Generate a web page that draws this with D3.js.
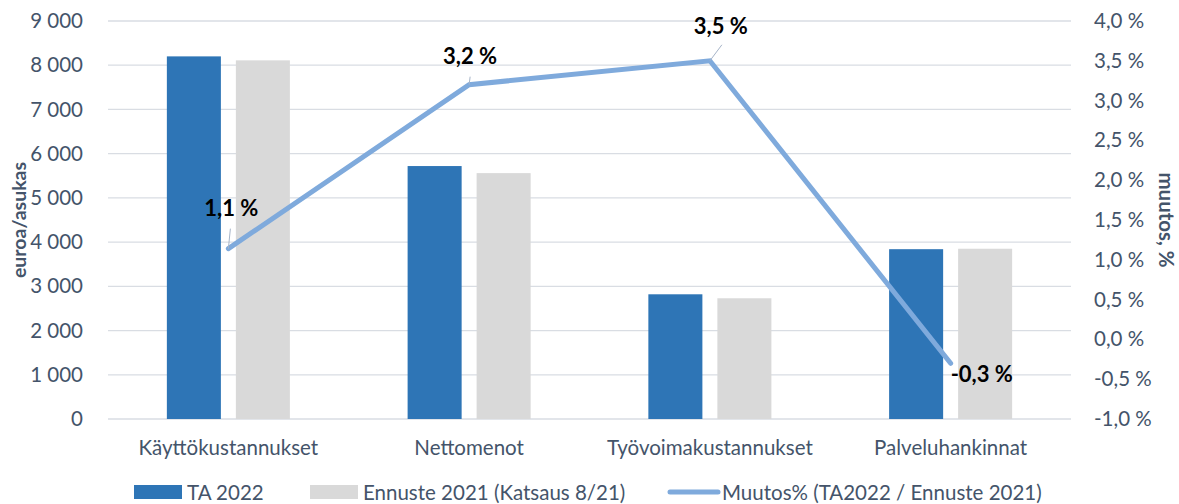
<!DOCTYPE html>
<html>
<head>
<meta charset="utf-8">
<script src="https://cdn.jsdelivr.net/npm/d3@7"></script>
<style>
  body { margin: 0; background: #fff; }
  text { font-family: Lato, "Open Sans", sans-serif; }
</style>
</head>
<body>
<svg id="chart" width="1179" height="504"></svg>
<script>
// data
const categories = ['Käyttökustannukset', 'Nettomenot', 'Työvoimakustannukset', 'Palveluhankinnat'];
const ta2022 = [8200, 5720, 2820, 3840];
const ennuste2021 = [8110, 5560, 2730, 3850];
const muutos = [1.14, 3.2, 3.5, -0.3];
const leftTicks = [0, 1000, 2000, 3000, 4000, 5000, 6000, 7000, 8000, 9000];
const rightTicks = [-1, -0.5, 0, 0.5, 1, 1.5, 2, 2.5, 3, 3.5, 4];
const seriesNames = ['TA 2022', 'Ennuste 2021 (Katsaus 8/21)', 'Muutos% (TA2022 / Ennuste 2021)'];

const svg = d3.select('#chart');
const plotL = 108, plotR = 1071, plotT = 21, plotB = 419;
const axisColor = '#44546A';
const fs = '20.5px';

const x = d3.scaleBand().domain(categories).range([plotL, plotR]);
const inner = d3.scaleBand().domain(['ta', 'en']).range([0, x.bandwidth()]).paddingOuter(0.853).paddingInner(0.217);
const yL = d3.scaleLinear().domain([0, 9000]).range([plotB, plotT]);
const yR = d3.scaleLinear().domain([-1, 4]).range([plotB, plotT]);

const fmtN = d => d3.format(',')(d).replace(/,/g, ' ');
const fmtP = d => d.toFixed(1).replace('.', ',') + ' %';

// gridlines
svg.append('g').selectAll('line').data(leftTicks).enter()
  .append('line')
    .attr('x1', plotL).attr('x2', plotR)
    .attr('y1', d => yL(d)).attr('y2', d => yL(d))
    .attr('stroke', '#D9DDE3').attr('stroke-width', 1.3);

// left axis
const gl = svg.append('g').attr('transform', `translate(${plotL - 22},0)`)
  .call(d3.axisLeft(yL).tickValues(leftTicks).tickFormat(fmtN).tickSize(0));
gl.select('.domain').remove();
gl.selectAll('text').attr('fill', axisColor).style('font-size', fs);

// right axis
const gr = svg.append('g').attr('transform', `translate(${plotR + 20},0)`)
  .call(d3.axisRight(yR).tickValues(rightTicks).tickFormat(fmtP).tickSize(0));
gr.select('.domain').remove();
gr.selectAll('text').attr('fill', axisColor).style('font-size', fs);

// bars
const groups = svg.append('g').selectAll('g').data(categories).enter()
  .append('g').attr('transform', d => `translate(${x(d)},0)`);
groups.append('rect')
  .attr('x', inner('ta')).attr('width', inner.bandwidth())
  .attr('y', (d, i) => yL(ta2022[i])).attr('height', (d, i) => plotB - yL(ta2022[i]))
  .attr('fill', '#2E75B6');
groups.append('rect')
  .attr('x', inner('en')).attr('width', inner.bandwidth())
  .attr('y', (d, i) => yL(ennuste2021[i])).attr('height', (d, i) => plotB - yL(ennuste2021[i]))
  .attr('fill', '#D9D9D9');

// category labels
svg.append('g').selectAll('text').data(categories).enter()
  .append('text')
    .attr('x', d => x(d) + x.bandwidth() / 2).attr('y', 455)
    .attr('text-anchor', 'middle').attr('fill', axisColor)
    .style('font-size', fs).text(d => d);

// line
const cx = i => x(categories[i]) + x.bandwidth() / 2;
const line = d3.line().x((d, i) => cx(i)).y(d => yR(d));
svg.append('path').datum(muutos)
  .attr('d', line).attr('fill', 'none')
  .attr('stroke', '#7FAADC').attr('stroke-width', 5).attr('stroke-linecap', 'round');

// data labels (offsets in px relative to point)
const labelOff = [[3, -33, 'middle'], [1, -21, 'middle'], [11, -27, 'middle'], [0, 19, 'start']];
const leader = [[2, -20], [1, -8], [12, -16], null];
muutos.forEach((d, i) => {
  if (leader[i]) {
    svg.append('line')
      .attr('x1', cx(i)).attr('y1', yR(d))
      .attr('x2', cx(i) + leader[i][0]).attr('y2', yR(d) + leader[i][1])
      .attr('stroke', '#A6B4C8').attr('stroke-width', 1);
  }
  svg.append('text')
    .attr('x', cx(i) + labelOff[i][0]).attr('y', yR(d) + labelOff[i][1])
    .attr('text-anchor', labelOff[i][2])
    .attr('font-weight', 'bold').attr('fill', '#000')
    .style('font-size', '22px').text(fmtP(d));
});

// axis titles
svg.append('text')
  .attr('transform', `translate(26,${(plotT + plotB) / 2}) rotate(-90)`)
  .attr('text-anchor', 'middle').attr('font-weight', 'bold').attr('fill', axisColor)
  .style('font-size', '19.5px').text('euroa/asukas');
svg.append('text')
  .attr('transform', `translate(1159,${(plotT + plotB) / 2}) rotate(90)`)
  .attr('text-anchor', 'middle').attr('font-weight', 'bold').attr('fill', axisColor)
  .style('font-size', '20.5px').text('muutos, %');

// legend
const leg = svg.append('g');
leg.append('rect').attr('x', 134).attr('y', 485).attr('width', 48).attr('height', 14).attr('fill', '#2E75B6');
leg.append('text').attr('x', 187).attr('y', 500).attr('fill', axisColor).style('font-size', fs).text(seriesNames[0]);
leg.append('rect').attr('x', 310).attr('y', 485).attr('width', 48).attr('height', 14).attr('fill', '#D9D9D9');
leg.append('text').attr('x', 363).attr('y', 500).attr('fill', axisColor).style('font-size', fs).text(seriesNames[1]);
leg.append('line').attr('x1', 670).attr('x2', 718).attr('y1', 492).attr('y2', 492)
  .attr('stroke', '#7FAADC').attr('stroke-width', 5).attr('stroke-linecap', 'round');
leg.append('text').attr('x', 722).attr('y', 500).attr('fill', axisColor).style('font-size', fs).text(seriesNames[2]);
</script>
</body>
</html>
